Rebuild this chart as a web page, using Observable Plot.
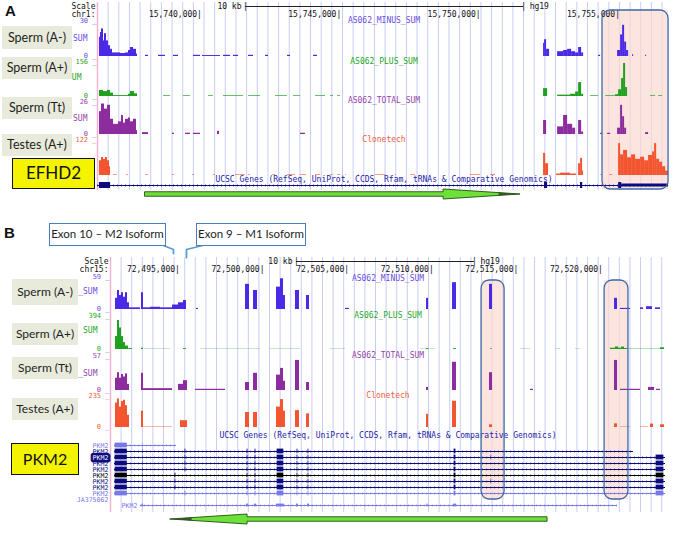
<!DOCTYPE html>
<html><head><meta charset="utf-8">
<script src="https://cdn.jsdelivr.net/npm/d3@7"></script>
<script src="https://cdn.jsdelivr.net/npm/@observablehq/plot@0.6"></script>
<style>
body{margin:0;background:#fff;}
#root{position:relative;width:678px;height:536px;overflow:hidden;background:#fff;}
.lab{background:#e8ebdb;font:12.5px Lato,sans-serif;color:#1e1e1e;text-align:center;box-sizing:border-box;white-space:nowrap;}
.gbox{background:#f4f400;border:1.5px solid #111;font:17px Lato,sans-serif;color:#111;text-align:center;box-sizing:border-box;}
.call{background:#fff;border:1.5px solid #4a7ebb;font:11.5px Lato,sans-serif;color:#1e1e1e;text-align:center;box-sizing:border-box;white-space:nowrap;}
.letter{font:bold 15px 'Liberation Sans',Arial,sans-serif;color:#111;}
</style></head>
<body><div id="root"></div>
<script>
// ---------------- DATA ----------------
// Panel A: chr1 (EFHD2), coordinates in kb
const domainA = [15736.34, 15756.90];
const ticksA = [15740, 15745, 15750, 15755];
const scaleBarA = [15741.65, 15751.63];
const highlightA = [[15754.46, 15756.83]];
const arrowA = [15738.06, 15748.76, 15751.52]; // tail, head base, tip

const spermMinusA = [
 [15736.411,15736.447,16],[15736.447,15736.483,20],[15736.483,15736.555,23],[15736.555,15736.591,13],
 [15736.591,15736.663,19],[15736.663,15736.735,13],[15736.735,15736.806,9],[15736.806,15736.878,6],
 [15736.878,15737.165,3],[15737.165,15737.344,2.5],[15737.344,15737.452,3],[15737.452,15737.524,5],
 [15737.524,15737.632,7.5],[15737.632,15737.739,6],[15737.739,15737.775,2],
 [15738.062,15738.170,1],[15738.529,15738.780,1],[15739.067,15739.246,1],[15739.785,15740.036,1],
 [15740.108,15740.754,0.8],[15740.861,15741.113,1],[15741.220,15741.400,1],[15741.759,15741.938,1],
 [15742.369,15742.476,1],[15743.158,15743.266,1],[15744.091,15744.235,1],
 [15752.346,15752.382,11],[15752.382,15752.454,14],[15752.454,15752.561,6],
 [15752.849,15753.064,4],[15753.064,15753.208,5],[15753.208,15753.352,6],[15753.352,15753.495,4],
 [15753.495,15753.603,3],[15753.603,15753.711,7.5],[15753.711,15753.782,3],
 [15754.320,15754.392,1],
 [15755.002,15755.110,5],[15755.110,15755.181,18],[15755.181,15755.253,26],[15755.253,15755.325,12],
 [15755.325,15755.397,5],[15755.540,15755.576,1.5],[15756.007,15756.043,1]
];
const spermPlusA = [
 [15736.411,15736.555,27],[15736.555,15736.699,22],[15736.699,15736.806,27],[15736.806,15736.914,15],
 [15736.914,15737.452,4],[15737.452,15737.524,10],[15737.524,15737.668,22],[15737.668,15737.775,12],
 [15738.708,15738.959,3],[15739.426,15739.677,3],[15740.323,15740.502,3],[15740.861,15741.579,3],
 [15741.759,15742.189,3],[15742.728,15743.158,3],[15743.374,15743.625,3],[15744.163,15744.522,3],
 [15744.702,15744.809,3],[15744.953,15745.061,3],
 [15752.346,15752.490,35],[15752.849,15753.316,6],[15753.316,15753.495,10],[15753.495,15753.603,20],
 [15753.603,15753.711,62],[15753.711,15753.782,10],[15754.033,15754.320,3],[15754.571,15754.930,3],
 [15754.930,15755.038,8],[15755.038,15755.146,30],[15755.146,15755.217,80],[15755.217,15755.289,147],
 [15755.289,15755.361,40],[15756.186,15756.366,3],[15756.474,15756.617,3]
];
const spermTotalA = [
 [15736.411,15736.483,18],[15736.483,15736.591,24],[15736.591,15736.699,20],[15736.699,15736.806,23],
 [15736.806,15736.914,12],[15736.914,15737.093,8],[15737.093,15737.201,10],[15737.201,15737.272,15],
 [15737.272,15737.344,9],[15737.344,15737.452,12],[15737.452,15737.524,13],[15737.524,15737.632,10],
 [15737.632,15737.739,12],[15737.739,15737.775,3],[15737.954,15738.170,1.5],[15739.031,15739.103,1],
 [15739.498,15739.677,1],[15739.785,15740.036,1],[15740.646,15740.718,2.5],[15743.625,15743.804,1],
 [15752.346,15752.454,11],[15752.849,15753.064,6],[15753.064,15753.208,15],[15753.208,15753.388,8],
 [15753.388,15753.495,5],[15753.603,15753.711,11],[15753.711,15753.782,2],[15754.392,15754.464,1],
 [15754.643,15754.751,1],[15755.002,15755.110,5],[15755.110,15755.181,23],[15755.181,15755.253,14],
 [15755.253,15755.325,5],[15756.007,15756.114,1.5]
];
const testesA = [
 [15736.411,15736.483,50],[15736.483,15736.555,61],[15736.555,15736.627,55],[15736.627,15736.699,61],
 [15736.699,15736.770,50],[15736.770,15736.806,30],
 [15736.914,15737.057,2],[15737.380,15737.452,2],[15738.062,15738.170,2],[15739.031,15739.103,2],
 [15739.749,15739.821,2],[15740.502,15740.574,2],[15741.292,15741.651,2],[15741.759,15741.830,2],
 [15742.620,15742.728,2],[15743.158,15743.445,2],[15743.625,15743.840,2],[15744.163,15744.343,2],
 [15744.702,15744.809,2],[15744.953,15745.061,2],[15745.240,15745.276,2],[15745.706,15745.742,2],
 [15746.316,15746.675,2],[15747.034,15747.070,2],[15747.573,15747.752,2],[15749.726,15750.085,2],
 [15750.444,15750.623,2],
 [15752.346,15752.418,75],[15752.418,15752.525,40],[15752.813,15752.956,5],[15752.956,15753.316,8],
 [15753.316,15753.531,5],[15753.603,15753.675,40],[15753.675,15753.746,58],[15753.746,15753.782,15],
 [15754.392,15754.464,2],[15754.715,15754.822,2],
 [15755.038,15755.110,108],[15755.110,15755.217,70],[15755.217,15755.361,85],[15755.361,15755.504,60],
 [15755.504,15755.648,70],[15755.648,15755.827,55],[15755.827,15755.971,62],[15755.971,15756.114,50],
 [15756.114,15756.258,68],[15756.258,15756.330,80],[15756.330,15756.402,108],[15756.402,15756.509,55],
 [15756.509,15756.617,45],[15756.617,15756.725,30],[15756.725,15756.832,15]
];
const efhd2Span = [15736.34, 15756.83];
const efhd2Exons = [[15736.41,15736.81],[15752.38,15752.49],[15753.67,15753.75],[15755.04,15755.15]];
const efhd2Utr = [[15755.15,15756.83]];

// Panel B: chr15 (PKM2)
const domainB = [72491.04, 72523.84];
const ticksB = [72495, 72500, 72505, 72510, 72515, 72520];
const scaleBarB = [72502.03, 72512.55];
const highlightB = [[72512.97, 72514.33],[72520.24, 72521.65]];
const arrowB = [72516.87, 72499.14, 72494.59]; // tail, head base, tip

const spermMinusB = [
 [72491.336,72491.454,20],[72491.454,72491.572,34],[72491.572,72491.690,25],[72491.690,72491.809,30],
 [72491.809,72491.927,22],[72491.927,72492.045,30],[72492.045,72492.163,12],[72492.163,72492.813,3],
 [72492.872,72492.991,30],[72492.991,72493.404,3],[72493.404,72493.995,4],[72493.995,72494.705,3],
 [72494.705,72495.059,8],[72495.059,72495.355,12],[72495.355,72495.532,16],[72496.123,72496.241,2],
 [72499.019,72499.255,45],[72499.492,72499.728,34],[72500.851,72501.087,40],[72501.087,72501.265,55],
 [72501.265,72501.383,25],[72501.974,72502.210,34],[72502.624,72502.801,25],[72504.929,72505.165,2],
 [72509.716,72509.834,20],[72511.253,72511.489,48],[72513.439,72513.617,45],[72520.827,72521.004,20],
 [72521.181,72521.772,2],[72522.363,72522.541,3],[72522.718,72523.072,5],[72523.250,72523.546,3]
];
const spermPlusB = [
 [72491.336,72491.454,150],[72491.454,72491.572,336],[72491.572,72491.690,250],[72491.690,72491.809,150],
 [72491.809,72491.927,80],[72491.927,72492.104,40],[72492.104,72492.340,10],[72492.872,72492.991,15],
 [72493.050,72494.586,3],[72495.355,72495.532,10],[72496.359,72499.905,3],[72500.496,72502.269,3],
 [72504.042,72504.929,3],[72509.361,72510.248,3],[72509.716,72509.834,12],[72511.312,72511.489,10],
 [72513.498,72513.617,8],[72515.271,72515.862,3],[72517.340,72517.635,3],[72518.522,72518.817,3],
 [72520.590,72520.886,15],[72520.886,72521.063,30],[72521.063,72521.240,15],[72521.240,72521.418,28],
 [72521.418,72521.595,12],[72521.595,72523.546,4],[72523.546,72523.782,20]
];
const spermTotalB = [
 [72491.336,72491.454,20],[72491.454,72491.572,29],[72491.572,72491.690,20],[72491.690,72491.809,26],
 [72491.809,72491.927,22],[72491.927,72492.045,27],[72492.045,72492.163,10],[72492.872,72492.991,28],
 [72492.991,72494.705,3],[72495.059,72495.355,10],[72495.355,72495.591,16],[72496.064,72497.837,2],
 [72499.019,72499.255,13],[72499.492,72499.728,28],[72500.851,72501.087,25],[72501.087,72501.265,36],
 [72501.265,72501.383,15],[72501.974,72502.210,49],[72502.624,72502.801,13],[72509.716,72509.834,5],
 [72511.253,72511.489,46],[72513.439,72513.617,29],[72515.862,72516.040,2],[72520.827,72521.004,49],
 [72521.181,72522.363,2],[72522.836,72523.191,5],[72523.309,72523.546,2]
];
const testesB = [
 [72491.336,72491.454,180],[72491.454,72491.572,210],[72491.572,72491.690,150],[72491.690,72491.809,190],
 [72491.809,72491.927,200],[72491.927,72492.045,160],[72492.045,72492.163,90],[72492.872,72492.991,120],
 [72492.991,72494.705,3],[72495.177,72495.591,50],[72499.019,72499.255,110],[72499.492,72499.728,110],
 [72500.851,72501.087,150],[72501.087,72501.265,205],[72501.265,72501.383,120],[72501.974,72502.210,124],
 [72502.624,72502.801,100],[72509.716,72509.834,97],[72511.253,72511.489,193],[72513.439,72513.617,20],
 [72520.827,72521.004,27],[72521.181,72521.772,3],[72522.363,72522.836,3],[72522.954,72523.132,25],
 [72523.546,72523.782,20]
];
// PKM2 transcripts
const pkmLabels = ["PKM2","PKM2","PKM2","PKM2","PKM2","PKM2","PKM2","PKM2","PKM2","JA375062","PKM2"];
const pkmSpans = [[72491.28,72494.94],[72491.28,72521.95],[72491.28,72523.84],[72491.28,72523.84],
 [72491.28,72523.84],[72491.28,72523.84],[72491.28,72523.84],[72491.28,72523.84],[72491.28,72523.84],
 [72492.00,72492.05],[72492.81,72521.00]];
const pkmCore = [[72492.90,72492.99],[72499.08,72499.20],[72499.55,72499.67],[72500.85,72501.32],
 [72502.03,72502.15],[72502.68,72502.80],[72509.74,72509.81],[72511.31,72511.49]];
const pkmExon = {utr3:[72491.28,72492.07], e142:[72492.90,72492.99], exon9:[72495.41,72495.53],
 exon10:[72494.82,72494.94], e491:[72513.50,72513.60], utr5:[72523.25,72523.78], alt5:[72521.88,72521.95],
 ja:[72492.00,72492.05]};
const pkmExonSets = [["utr3","e142"],["utr3","core","exon9","alt5"],["utr3","core","exon9","e491","utr5"],
 ["utr3","core","exon9","utr5"],["utr3","core","exon9","utr5"],["utr3","core","exon10","utr5"],
 ["utr3","core","exon10","e491","utr5"],["utr3","core","exon10","utr5"],["utr3","core","exon9","utr5"],
 ["ja"],["core"]];
const calloutTargets = [72494.76, 72495.53]; // exon 10, exon 9

// ---------------- STYLE / LAYOUT ----------------
const W = 678;
const MONO = "'DejaVu Sans Mono', monospace";
const root = document.getElementById("root");
const PA = {domain: domainA, ml: 97, mr: 8, grid: 0.3822};
const PB = {domain: domainB, ml: 110, mr: 13, grid: 0.6265};
const C = {blue:"#4a2ae6", green:"#1fa11f", purple:"#8c2c9e", orange:"#f25530",
  lblue:"#6a4ce2", lgreen:"#26a826", lpurple:"#9444ab", lorange:"#f0603c", navy:"#0c0c80", light:"#7878e8"};

function add(el, left, top){ el.style.position="absolute"; el.style.left=left+"px"; el.style.top=top+"px"; root.appendChild(el); return el; }
function box(text, left, top, w, h, cls, extra){ const d=document.createElement("div"); d.className=cls; d.textContent=text;
  d.style.width=w+"px"; d.style.height=h+"px"; d.style.lineHeight=(h-(cls==="lab"?0:3))+"px"; if(extra) Object.assign(d.style, extra); return add(d,left,top); }
const baseStyle = {background:"transparent", overflow:"visible", fontFamily:MONO, fontSize:"8px"};

function gridPlot(P, T, H, hl, insT, insB){
  const lines = d3.range(P.domain[0], P.domain[1], P.grid);
  return add(Plot.plot({width:W, height:H, marginLeft:P.ml, marginRight:P.mr, marginTop:0, marginBottom:0,
    x:{domain:P.domain, axis:null}, style:baseStyle,
    marks:[
      Plot.ruleX(lines, {stroke:"#c9cdf3", strokeWidth:1}),
      Plot.ruleX([P.domain[0]], {stroke:"#f0b4d2", strokeWidth:1.5}),
      Plot.rect(hl, {x1:d=>d[0], x2:d=>d[1], fill:"#fbd9d2", fillOpacity:0.72, insetTop:insT, insetBottom:insB})
    ]}), 0, T);
}
function borderPlot(P, T, H, hl, insT, insB){
  return add(Plot.plot({width:W, height:H, marginLeft:P.ml, marginRight:P.mr, marginTop:0, marginBottom:0,
    x:{domain:P.domain, axis:null}, style:baseStyle,
    marks:[Plot.rect(hl, {x1:d=>d[0], x2:d=>d[1], fill:"none", stroke:"#3d68aa", strokeWidth:1.3, rx:8, insetTop:insT, insetBottom:insB})]
  }), 0, T);
}
function headerPlot(P, T, rows, chr, ticks, bar){
  return add(Plot.plot({width:W, height:20, marginLeft:P.ml, marginRight:P.mr, marginTop:0, marginBottom:0,
    x:{domain:P.domain, axis:null}, y:{type:"point", domain:["bar","pos"], range:rows, padding:0, axis:null}, style:baseStyle,
    marks:[
      Plot.text([{y:"bar",t:"Scale"},{y:"pos",t:chr}], {y:"y", text:"t", frameAnchor:"left", textAnchor:"end", dx:-2, fill:"#111", fontSize:8}),
      Plot.ruleY([{y:"bar", x1:bar[0], x2:bar[1]}], {y:"y", x1:"x1", x2:"x2", stroke:"#222", strokeWidth:1}),
      Plot.text(bar, {x:d=>d, y:()=>"bar", text:()=>"|", fill:"#222", fontSize:8}),
      Plot.text([bar], {x:d=>d[0], y:()=>"bar", text:()=>"10 kb", textAnchor:"end", dx:-4, fill:"#111", fontSize:8}),
      Plot.text([bar], {x:d=>d[1], y:()=>"bar", text:()=>"hg19", textAnchor:"start", dx:6, fill:"#111", fontSize:8}),
      Plot.text(ticks, {x:d=>d, y:()=>"pos", text:d=>d3.format(",")(Math.round(d*1000))+"|", textAnchor:"end", dx:2.4, fill:"#111", fontSize:8})
    ]}), 0, T);
}
function trackPlot(P, t){
  const H = t.base - t.T + 1;
  const marks = [
      Plot.rect(t.segs, {x1:d=>d[0], x2:d=>d[1], y1:()=>0, y2:d=>d[2], fill:t.color}),
      Plot.text([t.name], {frameAnchor:"top", lineAnchor:"middle", dy:t.nameDy||0, fill:t.lcolor, fontSize:8}),
      Plot.text([t.max], {y:d=>d, text:d=>d+" _", frameAnchor:"left", textAnchor:"end", dx:-1, dy:0.5, fill:t.lcolor, fontSize:7}),
      Plot.text([0], {y:d=>d, text:d=>d+" _", frameAnchor:"left", textAnchor:"end", dx:-1, dy:-1, fill:t.lcolor, fontSize:7})
  ];
  if (t.short) marks.push(Plot.text([t.short], {frameAnchor:"left", textAnchor:"end", dx:t.shortDx, dy:t.shortDy||0, fill:t.lcolor, fontSize:8}));
  return add(Plot.plot({width:W, height:H, marginLeft:P.ml, marginRight:P.mr, marginTop:t.top-t.T, marginBottom:1,
    x:{domain:P.domain, axis:null}, y:{domain:[0,t.max], axis:null}, style:baseStyle, marks}), 0, t.T);
}
function arrowPlot(P, T, a){
  const [tail, base, tip] = a;
  const right = tip > base;
  const m = base + 0.72*(tip-base);
  let body = [{x:tail,y1:-0.45,y2:0.45},{x:base,y1:-0.45,y2:0.45},{x:base,y1:-1,y2:1},{x:tip,y1:0,y2:0}];
  let dark = [{x:m,y1:-0.28,y2:0.28},{x:tip,y1:0,y2:0}];
  if(!right){ body = body.reverse(); dark = dark.reverse(); }
  return add(Plot.plot({width:W, height:14, marginLeft:P.ml, marginRight:P.mr, marginTop:2, marginBottom:2,
    x:{domain:P.domain, axis:null}, y:{domain:[-1,1], axis:null}, style:baseStyle,
    marks:[
      Plot.areaY(body, {x:"x", y1:"y1", y2:"y2", fill:"#6ee03a", stroke:"#244d14", strokeWidth:0.9}),
      Plot.areaY(dark, {x:"x", y1:"y1", y2:"y2", fill:"#2e4a22", fillOpacity:0.85})
    ]}), 0, T);
}

// ---------------- PANEL A ----------------
gridPlot(PA, 2, 188, highlightA, 8, 1);
headerPlot(PA, 0, [6, 14.5], "chr1:", ticksA, scaleBarA);
const tracksA = [
  {T:16, top:20, base:56, max:30, segs:spermMinusA, color:C.blue, lcolor:C.lblue, name:"AS062_MINUS_SUM", short:"SUM", shortDx:-10},
  {T:57, top:61, base:96, max:156, segs:spermPlusA, color:C.green, lcolor:C.lgreen, name:"AS062_PLUS_SUM", short:"UM", shortDx:-16, shortDy:-2},
  {T:97, top:101, base:134, max:26, segs:spermTotalA, color:C.purple, lcolor:C.lpurple, name:"AS062_TOTAL_SUM", short:"SUM", shortDx:-10, nameDy:-1},
  {T:135, top:139, base:175, max:122, segs:testesA, color:C.orange, lcolor:C.lorange, name:"Clonetech"}
];
tracksA.forEach(t => trackPlot(PA, t));
add(Plot.plot({width:W, height:15, marginLeft:PA.ml, marginRight:PA.mr, marginTop:6, marginBottom:1,
  x:{domain:PA.domain, axis:null}, y:{type:"band", domain:["EFHD2"], axis:null, padding:0}, style:baseStyle,
  marks:[
    Plot.text(["UCSC Genes (RefSeq, UniProt, CCDS, Rfam, tRNAs & Comparative Genomics)"], {frameAnchor:"top", lineAnchor:"middle", dy:-2, fill:"#1c1ca8", fontSize:8}),
    Plot.ruleY([efhd2Span], {y:()=>"EFHD2", x1:d=>d[0], x2:d=>d[1], stroke:C.navy, strokeWidth:1}),
    Plot.ruleY([efhd2Span], {y:()=>"EFHD2", x1:d=>d[0], x2:d=>d[1], stroke:C.navy, strokeWidth:2.4, strokeDasharray:"1 3", strokeOpacity:0.45}),
    Plot.barX(efhd2Exons, {y:()=>"EFHD2", x1:d=>d[0], x2:d=>d[1], fill:C.navy, insetTop:1, insetBottom:1}),
    Plot.barX(efhd2Utr, {y:()=>"EFHD2", x1:d=>d[0], x2:d=>d[1], fill:C.navy, insetTop:2.5, insetBottom:2.5})
  ]}), 0, 175);
arrowPlot(PA, 187, arrowA);
borderPlot(PA, 2, 188, highlightA, 8, 1);

// ---------------- PANEL B ----------------
gridPlot(PB, 257, 255, highlightB, 23, 13);
headerPlot(PB, 252, [9, 17.5], "chr15:", ticksB, scaleBarB);
const tracksB = [
  {T:272, top:276, base:309, max:59, segs:spermMinusB, color:C.blue, lcolor:C.lblue, name:"AS062_MINUS_SUM", short:"_SUM", shortDx:-13, shortDy:-2, nameDy:1.5},
  {T:310, top:315, base:349, max:394, segs:spermPlusB, color:C.green, lcolor:C.lgreen, name:"AS062_PLUS_SUM", short:"SUM", shortDx:-13, shortDy:-2},
  {T:350, top:355, base:390, max:57, segs:spermTotalB, color:C.purple, lcolor:C.lpurple, name:"AS062_TOTAL_SUM", short:"_SUM", shortDx:-13},
  {T:391, top:395, base:427, max:235, segs:testesB, color:C.orange, lcolor:C.lorange, name:"Clonetech"}
];
tracksB.forEach(t => trackPlot(PB, t));

const rowIds = pkmLabels.map((_, i) => "r" + i);
const rowColor = i => (i === 5 ? "#000" : (i === 0 || i >= 8) ? C.light : C.navy);
const txB = pkmSpans.map((s, i) => ({row:rowIds[i], x1:s[0], x2:s[1], label:pkmLabels[i], i}));
const exB = [];
pkmExonSets.forEach((set, i) => set.forEach(k => (k === "core" ? pkmCore : [pkmExon[k]]).forEach(e =>
  exB.push({row:rowIds[i], x1:e[0], x2:e[1], i, k}))));
add(Plot.plot({width:W, height:85, marginLeft:PB.ml, marginRight:PB.mr, marginTop:11, marginBottom:1,
  x:{domain:PB.domain, axis:null}, y:{type:"band", domain:rowIds, axis:null, padding:0}, color:{type:"identity"}, style:baseStyle,
  marks:[
    Plot.text(["UCSC Genes (RefSeq, UniProt, CCDS, Rfam, tRNAs & Comparative Genomics)"], {frameAnchor:"top", lineAnchor:"middle", dy:-3, fill:"#1c1ca8", fontSize:8}),
    Plot.ruleY(txB.filter(d => d.i !== 9), {y:"row", x1:"x1", x2:"x2", stroke:d => rowColor(d.i), strokeWidth:1}),
    Plot.ruleY(txB.filter(d => d.i !== 9), {y:"row", x1:"x1", x2:"x2", stroke:d => rowColor(d.i), strokeWidth:2.4, strokeDasharray:"1 3", strokeOpacity:0.4}),
    Plot.barX(exB.filter(d => d.i !== 10), {y:"row", x1:"x1", x2:"x2", fill:d => rowColor(d.i), inset:0.6}),
    Plot.barX(exB.filter(d => d.i === 10), {y:"row", x1:"x1", x2:"x2", fill:C.light, insetTop:1.6, insetBottom:1.6}),
    Plot.text(txB.filter(d => d.i < 10 && d.i !== 2), {y:"row", text:"label", frameAnchor:"left", textAnchor:"end", dx:-2, fill:d => rowColor(d.i), fontSize:6.6}),
    Plot.text(txB.filter(d => d.i === 2), {y:"row", text:"label", frameAnchor:"left", textAnchor:"end", dx:-2, fill:"#fff", stroke:C.navy, strokeWidth:5, paintOrder:"stroke", fontSize:6.6}),
    Plot.text(txB.filter(d => d.i === 10), {y:"row", x:"x1", text:"label", textAnchor:"end", dx:-3, fill:C.light, fontSize:6.6})
  ]}), 0, 427);
arrowPlot(PB, 512, arrowB);
borderPlot(PB, 257, 255, highlightB, 23, 13);

// callout leader lines (to exon 10 and exon 9)
const callPts = [
  {c:"e10", x:72494.17, y:"box"}, {c:"e10", x:calloutTargets[0], y:"bend"}, {c:"e10", x:calloutTargets[0], y:"tip1"},
  {c:"e9", x:72496.48, y:"box"}, {c:"e9", x:calloutTargets[1], y:"bend"}, {c:"e9", x:calloutTargets[1], y:"tip2"}
];
add(Plot.plot({width:W, height:536, marginLeft:PB.ml, marginRight:PB.mr, marginTop:0, marginBottom:0,
  x:{domain:PB.domain, axis:null}, y:{type:"point", domain:["box","bend","tip1","tip2"], range:[245,257,292,302], padding:0, axis:null}, style:baseStyle,
  marks:[Plot.line(callPts, {x:"x", y:"y", z:"c", stroke:"#5b9bd5", strokeWidth:1.8})]}), 0, 0);

// ---------------- HTML LABELS ----------------
const letterA = document.createElement("div"); letterA.className="letter"; letterA.textContent="A"; add(letterA, 5, 2);
const letterB = document.createElement("div"); letterB.className="letter"; letterB.textContent="B"; add(letterB, 4, 224);
box("Sperm (A-)", 2, 26, 70, 23, "lab");
box("Sperm (A+)", 2, 57, 70, 22, "lab");
box("Sperm (Tt)", 2, 97, 70, 22, "lab");
box("Testes (A+)", 2, 134, 70, 22, "lab");
box("EFHD2", 12, 158, 83, 31, "gbox");
box("Sperm (A-)", 12, 279, 66, 26, "lab", {fontSize:"12px"});
box("Sperm (A+)", 12, 323, 66, 22, "lab", {fontSize:"12px"});
box("Sperm (Tt)", 12, 357, 66, 22, "lab", {fontSize:"12px"});
box("Testes (A+)", 12, 398, 66, 22, "lab", {fontSize:"12px"});
box("PKM2", 11, 443, 68, 32, "gbox", {fontSize:"16px"});
box("Exon 10 \u2013 M2 Isoform", 49, 223, 117, 23, "call");
box("Exon 9 \u2013 M1 Isoform", 196, 223, 110, 23, "call");
</script></body></html>
